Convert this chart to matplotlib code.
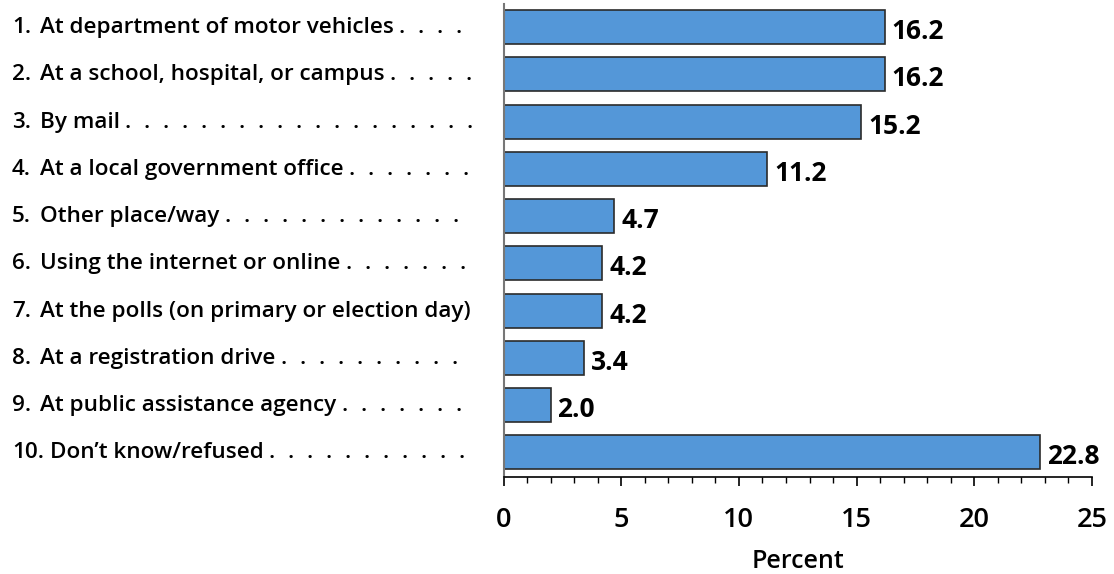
import numpy as np
import matplotlib
matplotlib.use("Agg")
import matplotlib.pyplot as plt
from matplotlib.ticker import MultipleLocator

plt.rcParams['font.family'] = ['Open Sans', 'DejaVu Sans']

# data
numbers = ["1.", "2.", "3.", "4.", "5.", "6.", "7.", "8.", "9.", "10."]
labels = ["At department of motor vehicles",
          "At a school, hospital, or campus",
          "By mail",
          "At a local government office",
          "Other place/way",
          "Using the internet or online",
          "At the polls (on primary or election day)",
          "At a registration drive",
          "At public assistance agency",
          "Don\u2019t know/refused"]
values = [16.2, 16.2, 15.2, 11.2, 4.7, 4.2, 4.2, 3.4, 2.0, 22.8]
value_text = ["16.2", "16.2", "15.2", "11.2", "4.7", "4.2", "4.2", "3.4", "2.0", "22.8"]
has_leader = [True, True, True, True, True, True, False, True, True, True]

bar_color = "#5497d8"

fig = plt.figure(figsize=(11.14, 5.74), dpi=100)
ax = fig.add_axes([503.5/1114, 1 - 477/574, (1092-503.5)/1114, 473/574])

y = np.arange(len(values))
ax.barh(y, values, height=0.72, color=bar_color, edgecolor="#2b2b2b", linewidth=1.2)

ax.set_xlim(0, 25)
ax.set_ylim(9.52, -0.49)
ax.set_yticks([])
ax.xaxis.set_major_locator(MultipleLocator(5))
ax.xaxis.set_minor_locator(MultipleLocator(1))
ax.tick_params(axis='x', which='major', length=6.5, width=1.2, pad=14.5, labelsize=19.5)
ax.tick_params(axis='x', which='minor', length=4.3, width=1.0)
for lab in ax.get_xticklabels():
    lab.set_fontweight('semibold')

for s in ['top', 'right']:
    ax.spines[s].set_visible(False)
ax.spines['left'].set_color('#777777')
ax.spines['left'].set_linewidth(1.5)
ax.spines['bottom'].set_linewidth(1.2)

ax.set_xlabel("Percent", fontsize=18, fontweight='semibold', labelpad=11)

# value labels
for yi, v, t in zip(y, values, value_text):
    ax.annotate(t, (v, yi), xytext=(5, -8.6), textcoords='offset points',
                ha='left', va='baseline', fontsize=19, fontweight='bold')

# category labels with dot leaders
fig.canvas.draw()
renderer = fig.canvas.get_renderer()
W, H = fig.bbox.width, fig.bbox.height
fs = 16.2
for yi, num, lab, lead in zip(y, numbers, labels, has_leader):
    base = ax.transData.transform((0, yi))[1] - 6
    tn = fig.text(12 / W, base / H, num, ha='left', va='baseline',
                  fontsize=fs, fontweight='semibold')
    nb = tn.get_window_extent(renderer)
    x0 = max(40, nb.x1 + 6)
    t = fig.text(x0 / W, base / H, lab, ha='left', va='baseline',
                 fontsize=fs, fontweight='semibold')
    bb = t.get_window_extent(renderer)
    if not lead:
        continue
    xd = bb.x1 + 8
    while xd <= 472:
        fig.text(xd / W, base / H, ".", ha='center', va='baseline',
                 fontsize=fs, fontweight='semibold')
        xd += 19

fig.savefig("out.png", dpi=100)
